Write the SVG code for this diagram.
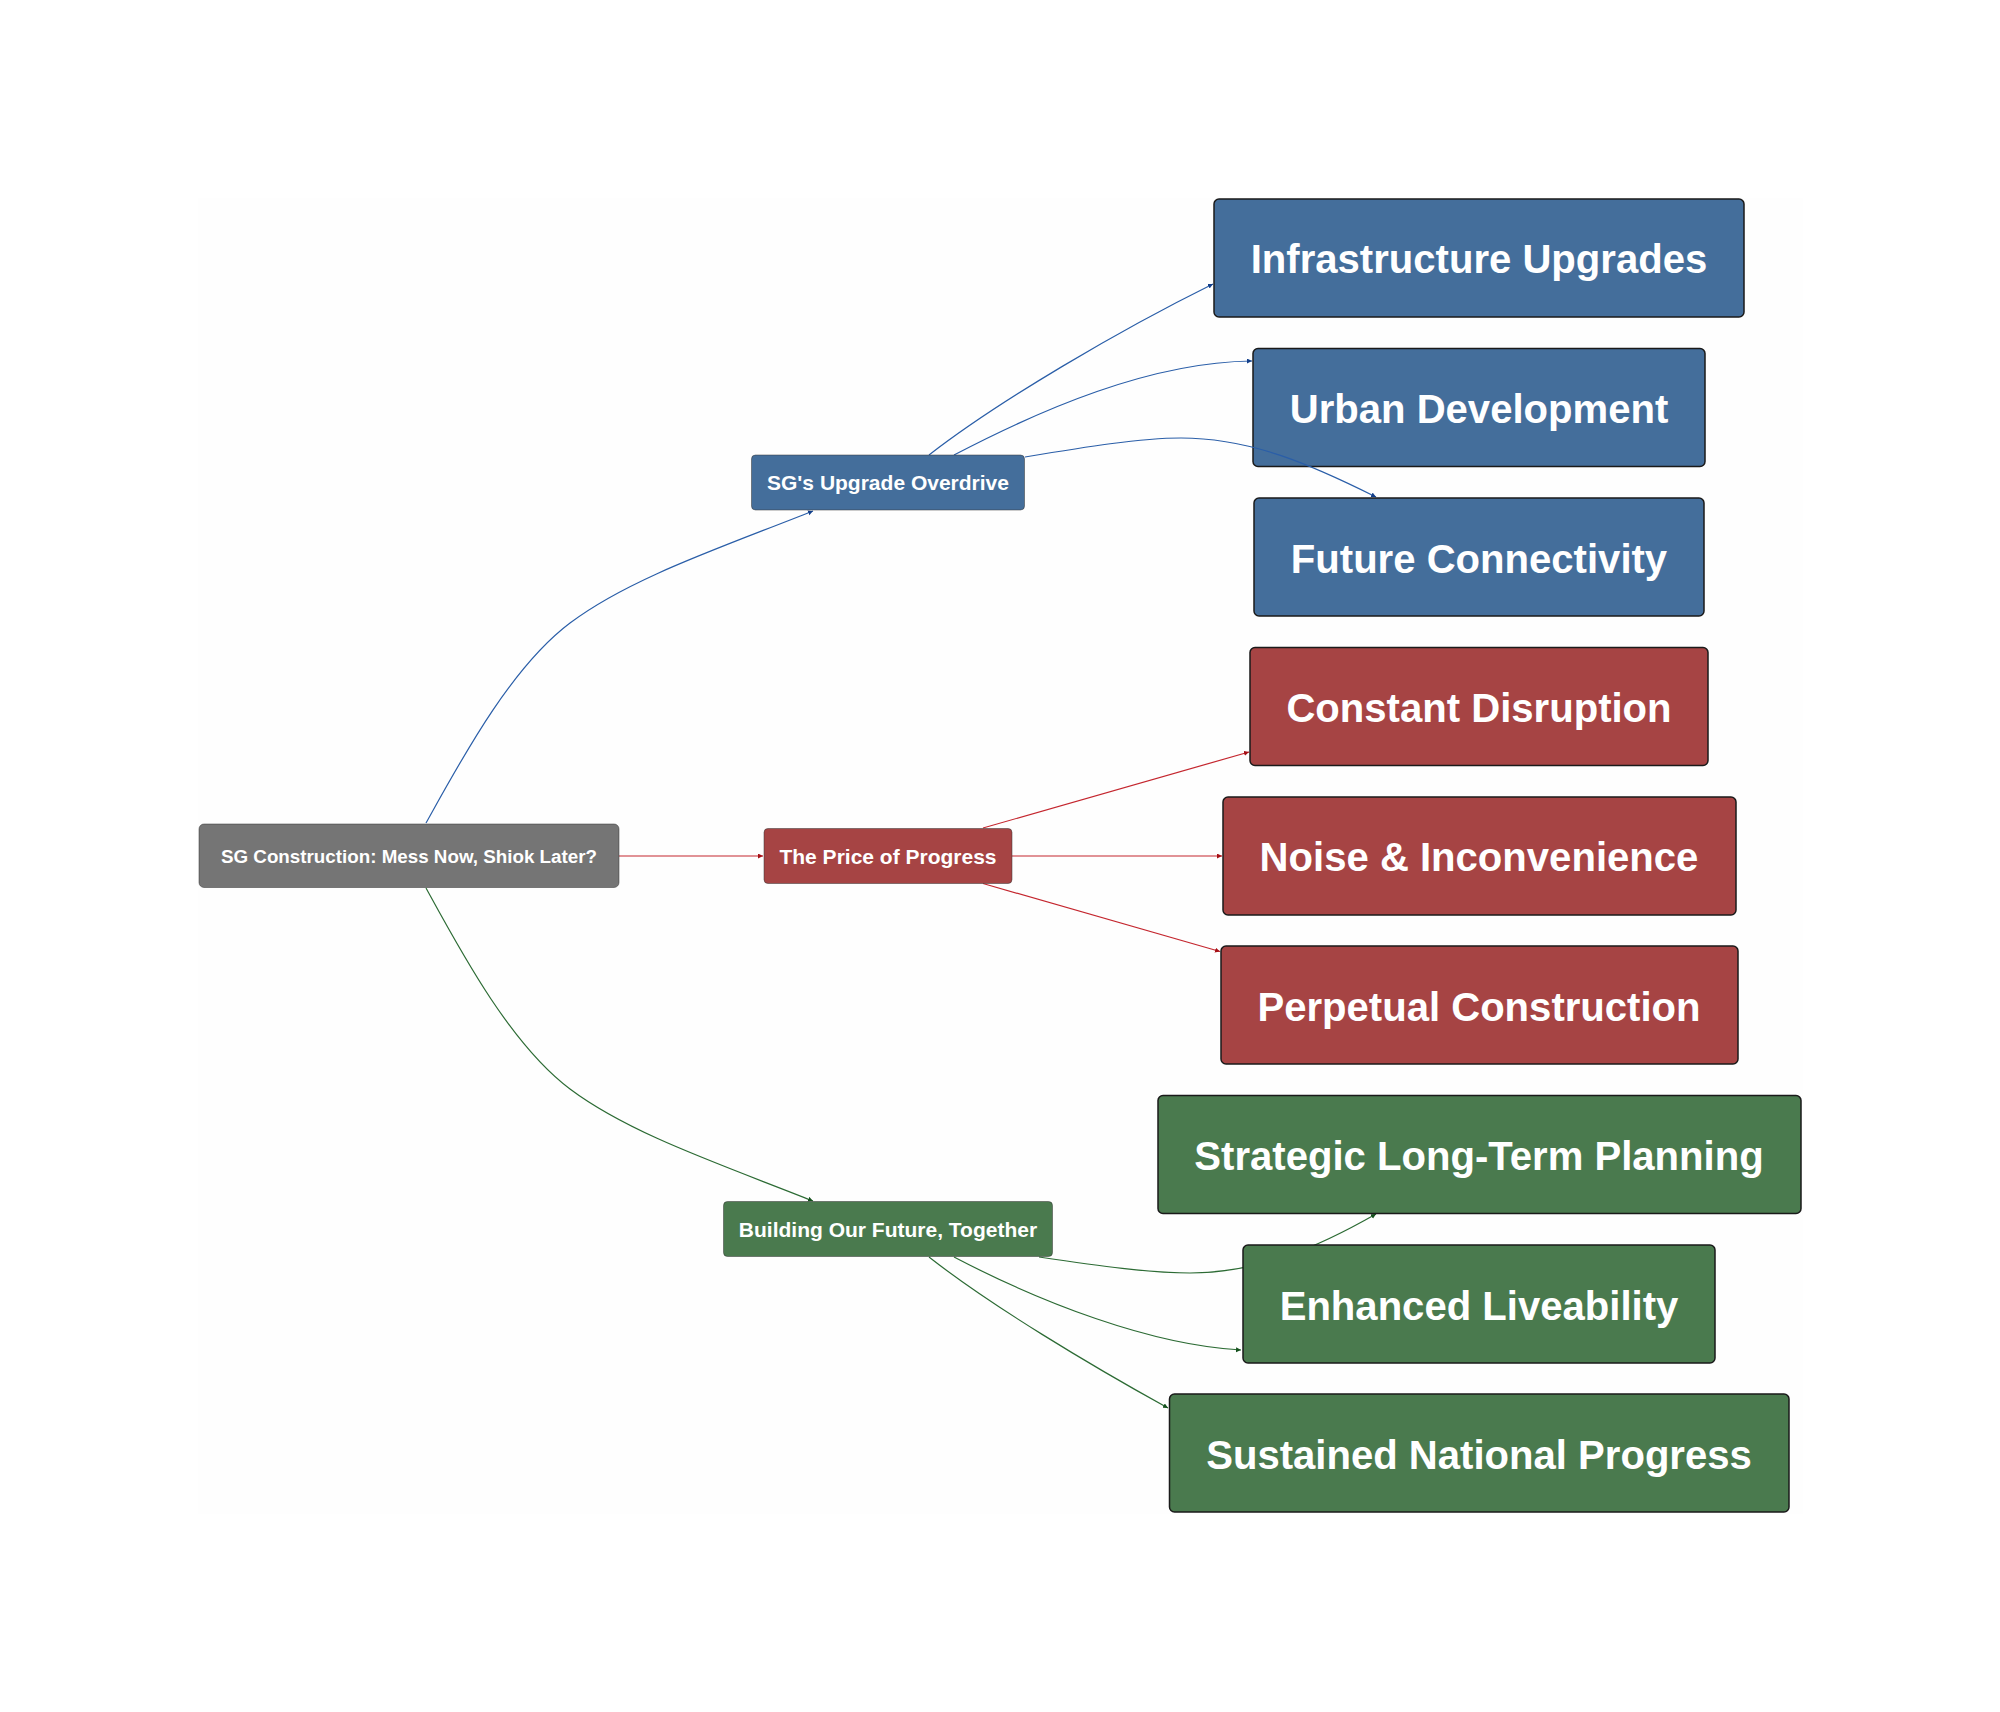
<svg xmlns="http://www.w3.org/2000/svg" width="2000" height="1712" viewBox="0 0 2000 1712">
<style>
text{font-family:"Liberation Sans",Arial,sans-serif;font-weight:700;fill:#fff;text-anchor:middle;dominant-baseline:central}
.r{font-size:18.800px}.s{font-size:21px}.l{font-size:40.100px}
.blue{fill:#446e9b}.red{fill:#a64444}.green{fill:#4a7a4e}.grey{fill:#757575}
.mid{stroke:#333;stroke-opacity:.5;stroke-width:1}.leaf{stroke:#1a1a1a;stroke-width:1.500}
.c{fill:none;stroke-width:1.200}
.cb{stroke:#2a5ea8}.cr{stroke:#c4262e}.cg{stroke:#2c6b34}
</style>
<defs>
<marker id="ab" markerUnits="userSpaceOnUse" markerWidth="6" markerHeight="6" refX="5" refY="2.500" orient="auto"><path d="M0 0L5 2.500L0 5z" fill="#123f8a"/></marker>
<marker id="ar" markerUnits="userSpaceOnUse" markerWidth="6" markerHeight="6" refX="5" refY="2.500" orient="auto"><path d="M0 0L5 2.500L0 5z" fill="#a50f15"/></marker>
<marker id="ag" markerUnits="userSpaceOnUse" markerWidth="6" markerHeight="6" refX="5" refY="2.500" orient="auto"><path d="M0 0L5 2.500L0 5z" fill="#14501c"/></marker>
</defs>
<rect width="2000" height="1712" fill="#fff"/>
<rect x="198" y="198" width="1605" height="1316" fill="#fefefe"/>
<g id="n-urban"><rect class="blue leaf" x="1253" y="348.500" width="452" height="118" rx="5"/><text class="l" x="1479" y="408.500">Urban Development</text></g>
<g id="connectors">
<path class="c cb" marker-end="url(#ab)" d="M426 823C460 762 510 668 570 623C630 578 720 548 813 511"/>
<path class="c cr" marker-end="url(#ar)" d="M619 856H763"/>
<path class="c cg" marker-end="url(#ag)" d="M426 888C460 950 510 1044 570 1089C630 1134 720 1164 813 1201"/>
<path class="c cb" marker-end="url(#ab)" d="M929 455C1000 400 1120 330 1213 284"/>
<path class="c cb" marker-end="url(#ab)" d="M954 455C1040 410 1150 362 1252 361"/>
<path class="c cb" marker-end="url(#ab)" d="M1025 457C1085 447 1140 438 1181 438C1250 438 1310 464 1376 497"/>
<path class="c cr" marker-end="url(#ar)" d="M983 828L1249 752"/>
<path class="c cr" marker-end="url(#ar)" d="M1012 856H1222"/>
<path class="c cr" marker-end="url(#ar)" d="M983 883.500L1220 951.500"/>
<path class="c cg" marker-end="url(#ag)" d="M1039 1257C1100 1266 1150 1273 1190 1273C1260 1273 1320 1246 1376 1214"/>
<path class="c cg" marker-end="url(#ag)" d="M954 1257C1040 1302 1150 1345 1241 1350"/>
<path class="c cg" marker-end="url(#ag)" d="M929 1257C990 1305 1090 1365 1168 1408"/>
</g>
<g id="n-root"><rect class="grey mid" x="199" y="824" width="420" height="63.500" rx="5"/><text class="r" x="409" y="856">SG Construction: Mess Now, Shiok Later?</text></g>
<g id="n-upgrade"><rect class="blue mid" x="751.500" y="455" width="273" height="55" rx="4"/><text class="s" x="888" y="482.500">SG's Upgrade Overdrive</text></g>
<g id="n-price"><rect class="red mid" x="764" y="828.500" width="248" height="55" rx="4"/><text class="s" x="888" y="856">The Price of Progress</text></g>
<g id="n-future"><rect class="green mid" x="723.500" y="1201.500" width="329" height="55" rx="4"/><text class="s" x="888" y="1229">Building Our Future, Together</text></g>
<g id="n-infra"><rect class="blue leaf" x="1214" y="199" width="530" height="118" rx="5"/><text class="l" x="1479" y="259">Infrastructure Upgrades</text></g>
<g id="n-connect"><rect class="blue leaf" x="1254" y="498" width="450" height="118" rx="5"/><text class="l" x="1479" y="558.500">Future Connectivity</text></g>
<g id="n-disrupt"><rect class="red leaf" x="1250" y="647.500" width="458" height="118" rx="5"/><text class="l" x="1479" y="707.500">Constant Disruption</text></g>
<g id="n-noise"><rect class="red leaf" x="1223" y="797" width="513" height="118" rx="5"/><text class="l" x="1479" y="857">Noise &amp; Inconvenience</text></g>
<g id="n-perpetual"><rect class="red leaf" x="1221" y="946" width="517" height="118" rx="5"/><text class="l" x="1479" y="1006.500">Perpetual Construction</text></g>
<g id="n-strategic"><rect class="green leaf" x="1158" y="1095.500" width="643" height="118" rx="5"/><text class="l" x="1479" y="1155.500">Strategic Long-Term Planning</text></g>
<g id="n-liveable"><rect class="green leaf" x="1243" y="1245" width="472" height="118" rx="5"/><text class="l" x="1479" y="1305.500">Enhanced Liveability</text></g>
<g id="n-progress"><rect class="green leaf" x="1169.500" y="1394" width="619.500" height="118" rx="5"/><text class="l" x="1479" y="1454.500">Sustained National Progress</text></g>
</svg>
